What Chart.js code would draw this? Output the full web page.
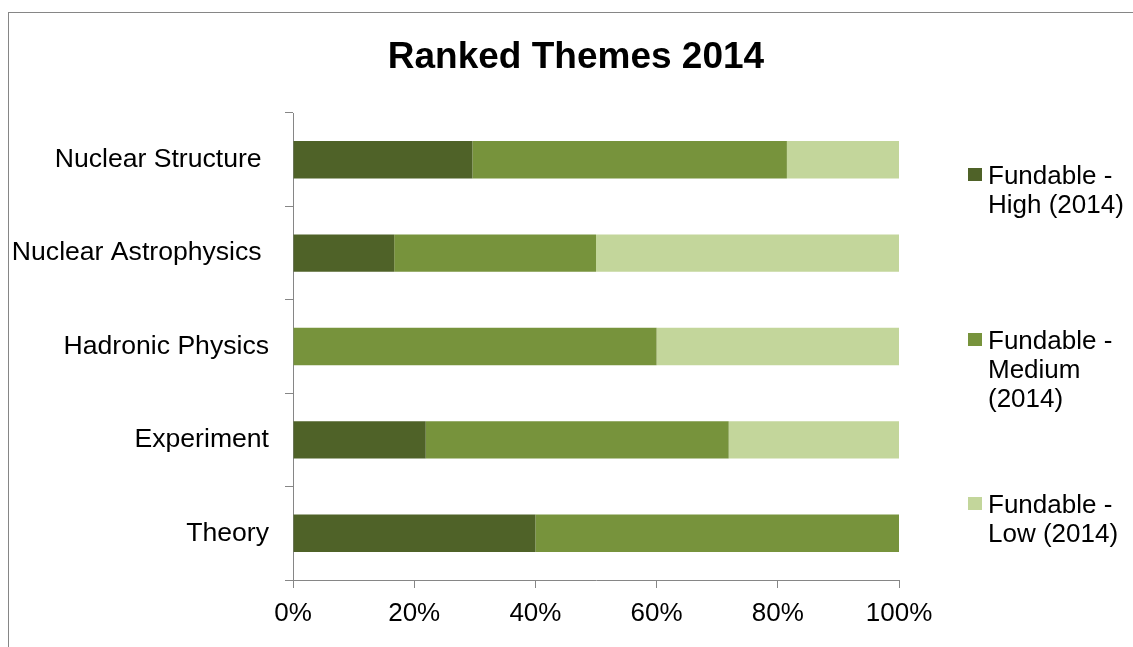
<!DOCTYPE html>
<html>
<head>
<meta charset="utf-8">
<script src="https://cdn.jsdelivr.net/npm/chart.js@4.4.1/dist/chart.umd.min.js"></script>
<style>
  html, body { margin: 0; padding: 0; background: #ffffff; }
  body { width: 1133px; height: 647px; overflow: hidden; position: relative;
         font-family: "Liberation Sans", Arial, sans-serif; }
  #frame { position: absolute; left: 8px; top: 12px; width: 1300px; height: 800px;
           border-left: 1px solid #868686; border-top: 1px solid #868686; box-sizing: border-box; }
  #chart { position: absolute; left: 0; top: 0; }
  #title { position: absolute; left: 376px; width: 400px; top: 37px; text-align: center;
           font-weight: bold; font-size: 37px; line-height: 37px; color: #000; white-space: nowrap; }
  .lg-item { position: absolute; left: 968px; }
  .lg-box { position: absolute; left: 0; width: 14px; height: 13px; }
  .lg-text { position: absolute; left: 20px; width: 145px; font-size: 26px; line-height: 29px; color: #000; }
</style>
</head>
<body>
<div id="frame"></div>
<canvas id="chart" width="1133" height="647"></canvas>
<div id="title"></div>
<div id="legend"></div>
<script>
// ---- data ----
const chartTitle = 'Ranked Themes 2014';
const categories = ['Nuclear Structure ', 'Nuclear Astrophysics ', 'Hadronic Physics', 'Experiment', 'Theory'];
const seriesNames = ['Fundable - High (2014)', 'Fundable - Medium (2014)', 'Fundable - Low (2014)'];
const highValues = [29.6, 16.7, 0, 21.9, 40];
const mediumValues = [51.9, 33.3, 60, 50.0, 60];
const lowValues = [18.5, 50.0, 40, 28.1, 0];
const xTicks = [0, 20, 40, 60, 80, 100];

// ---- styles ----
const seriesColors = ['#4F6228', '#77933C', '#C3D69B'];
const axisColor = '#868686';
const fontFamily = '"Liberation Sans", Arial, sans-serif';

document.getElementById('title').textContent = chartTitle;

const seriesValues = [highValues, mediumValues, lowValues];
const datasets = seriesNames.map((name, i) => ({
  label: name,
  data: seriesValues[i],
  backgroundColor: seriesColors[i],
  borderWidth: 0,
  categoryPercentage: 1.0,
  barPercentage: 0.4
}));

// HTML legend built from the series
const legendTops = [161, 326, 490];
const legendEl = document.getElementById('legend');
seriesNames.forEach((name, i) => {
  const item = document.createElement('div');
  item.className = 'lg-item';
  item.style.top = legendTops[i] + 'px';
  const box = document.createElement('div');
  box.className = 'lg-box';
  box.style.background = seriesColors[i];
  box.style.top = '7px';
  const txt = document.createElement('div');
  txt.className = 'lg-text';
  txt.style.top = '0px';
  txt.textContent = name;
  item.appendChild(box);
  item.appendChild(txt);
  legendEl.appendChild(item);
});

new Chart(document.getElementById('chart'), {
  type: 'bar',
  data: { labels: categories, datasets: datasets },
  options: {
    indexAxis: 'y',
    responsive: false,
    maintainAspectRatio: false,
    animation: false,
    events: [],
    layout: { padding: { left: 0, right: 234, top: 113, bottom: 0 } },
    plugins: {
      legend: { display: false },
      title: { display: false },
      tooltip: { enabled: false }
    },
    scales: {
      x: {
        type: 'linear',
        stacked: true,
        min: xTicks[0],
        max: xTicks[xTicks.length - 1],
        afterBuildTicks: (scale) => { scale.ticks = xTicks.map(v => ({ value: v })); },
        afterFit: (scale) => { scale.height = 67; },
        ticks: {
          autoSkip: false,
          maxRotation: 0,
          padding: 10,
          color: '#000',
          font: { family: fontFamily, size: 26 },
          callback: (v) => v + '%'
        },
        grid: { drawOnChartArea: false, drawTicks: true, tickLength: 8, color: axisColor, lineWidth: 1 },
        border: { display: true, color: axisColor, width: 1 }
      },
      y: {
        stacked: true,
        afterFit: (scale) => { scale.width = 293; },
        ticks: {
          autoSkip: false,
          padding: 16,
          color: '#000',
          font: { family: fontFamily, size: 26.6 }
        },
        grid: { offset: true, drawOnChartArea: false, drawTicks: true, tickLength: 8, color: axisColor, lineWidth: 1 },
        border: { display: true, color: axisColor, width: 1 }
      }
    }
  }
});
</script>
</body>
</html>
